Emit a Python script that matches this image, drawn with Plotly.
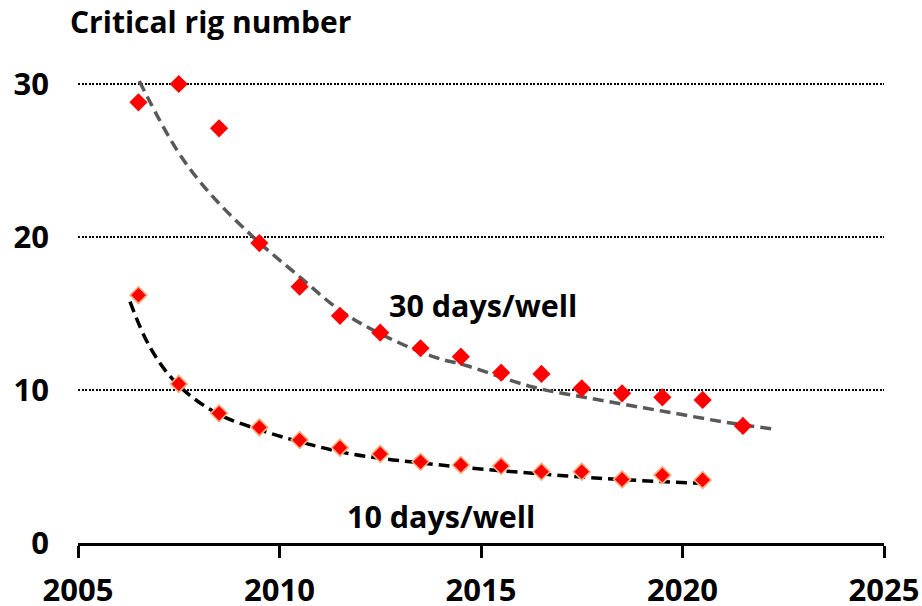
import plotly.graph_objects as go

# ---- data ----
years30 = [2006.5, 2007.5, 2008.5, 2009.5, 2010.5, 2011.5, 2012.5, 2013.5,
           2014.5, 2015.5, 2016.5, 2017.5, 2018.5, 2019.5, 2020.5, 2021.5]
rigs30 = [28.8, 30.0, 27.1, 19.6, 16.75, 14.85, 13.75, 12.73,
          12.18, 11.13, 11.05, 10.11, 9.78, 9.52, 9.35, 7.65]

years10 = [2006.5, 2007.5, 2008.5, 2009.5, 2010.5, 2011.5, 2012.5, 2013.5,
           2014.5, 2015.5, 2016.5, 2017.5, 2018.5, 2019.5, 2020.5]
rigs10 = [16.2, 10.4, 8.48, 7.56, 6.73, 6.23, 5.82, 5.31,
          5.1, 5.03, 4.66, 4.66, 4.16, 4.44, 4.12]

# trend curves
trend30_x = [2006.52, 2007.45, 2008.27, 2009.43, 2010.50, 2011.49, 2012.48,
             2013.81, 2014.63, 2016.28, 2017.94, 2019.59, 2021.24, 2022.27]
trend30_y = [30.2, 25.7, 22.86, 19.8, 17.4, 15.23, 13.7,
             12.18, 11.6, 10.2, 9.35, 8.58, 7.82, 7.45]

trend10_x = [2006.29, 2006.78, 2007.45, 2008.44, 2009.51, 2010.50, 2011.49,
             2012.48, 2013.47, 2014.63, 2016.28, 2017.94, 2019.59, 2020.58]
trend10_y = [15.77, 12.83, 10.42, 8.48, 7.39, 6.62, 5.97,
             5.54, 5.25, 4.92, 4.56, 4.23, 4.0, 3.90]

x_ticks = [2005, 2010, 2015, 2020, 2025]
y_ticks = [0, 10, 20, 30]

title_text = "Critical rig number"
label30 = "30 days/well"
label10 = "10 days/well"

FONT = "Open Sans, Noto Sans, sans-serif"
TXT = "#000000"

fig = go.Figure()

fig.add_trace(go.Scatter(
    x=trend30_x, y=trend30_y, mode="lines", line_shape="spline",
    line=dict(color="#595959", width=3.5, dash="11px,6px"),
    hoverinfo="skip", cliponaxis=False))
fig.add_trace(go.Scatter(
    x=trend10_x, y=trend10_y, mode="lines", line_shape="spline",
    line=dict(color="#000000", width=3.5, dash="11px,6px"),
    hoverinfo="skip", cliponaxis=False))

fig.add_trace(go.Scatter(
    x=years30, y=rigs30, mode="markers",
    marker=dict(symbol="diamond", size=14, color="#FF0000",
                line=dict(width=0)),
    cliponaxis=False))
fig.add_trace(go.Scatter(
    x=years10, y=rigs10, mode="markers",
    marker=dict(symbol="diamond", size=13, color="#FF0000",
                line=dict(width=1.6, color="#F4B183")),
    cliponaxis=False))

fig.add_annotation(x=2015.04, y=15.56, xref="x", yref="y", text=label30,
                   showarrow=False,
                   font=dict(family=FONT, size=30.5, color=TXT, weight="bold"))
fig.add_annotation(x=2014.0, y=1.76, xref="x", yref="y", text=label10,
                   showarrow=False,
                   font=dict(family=FONT, size=30.5, color=TXT, weight="bold"))

fig.update_layout(
    width=922, height=606,
    margin=dict(l=78, r=38, t=60, b=63),
    paper_bgcolor="white", plot_bgcolor="white",
    showlegend=False,
    title=dict(text=title_text, xref="container", yref="container",
               x=70 / 922, xanchor="left", y=1 - 22 / 606, yanchor="middle",
               font=dict(family=FONT, size=30, color=TXT, weight="bold")),
    xaxis=dict(range=[2005, 2025], tickvals=x_ticks, automargin=False,
               showgrid=False, zeroline=False,
               showline=True, linecolor="black", linewidth=3,
               ticks="outside", ticklen=12, tickwidth=3, tickcolor="black",
               ticklabelstandoff=6,
               tickfont=dict(family=FONT, size=31, color=TXT, weight="bold")),
    yaxis=dict(range=[0, (543 - 60) / 15.3], tickvals=y_ticks, automargin=False,
               showgrid=True, gridcolor="black", gridwidth=2, griddash="2px,1.5px",
               zeroline=False, showline=False, ticks="",
               ticklabelstandoff=28,
               tickfont=dict(family=FONT, size=31, color=TXT, weight="bold")),
)

fig.write_html(
    "out.html",
    config={"displayModeBar": False},
    post_script="document.body.style.margin='0';document.body.style.overflow='hidden';",
)
